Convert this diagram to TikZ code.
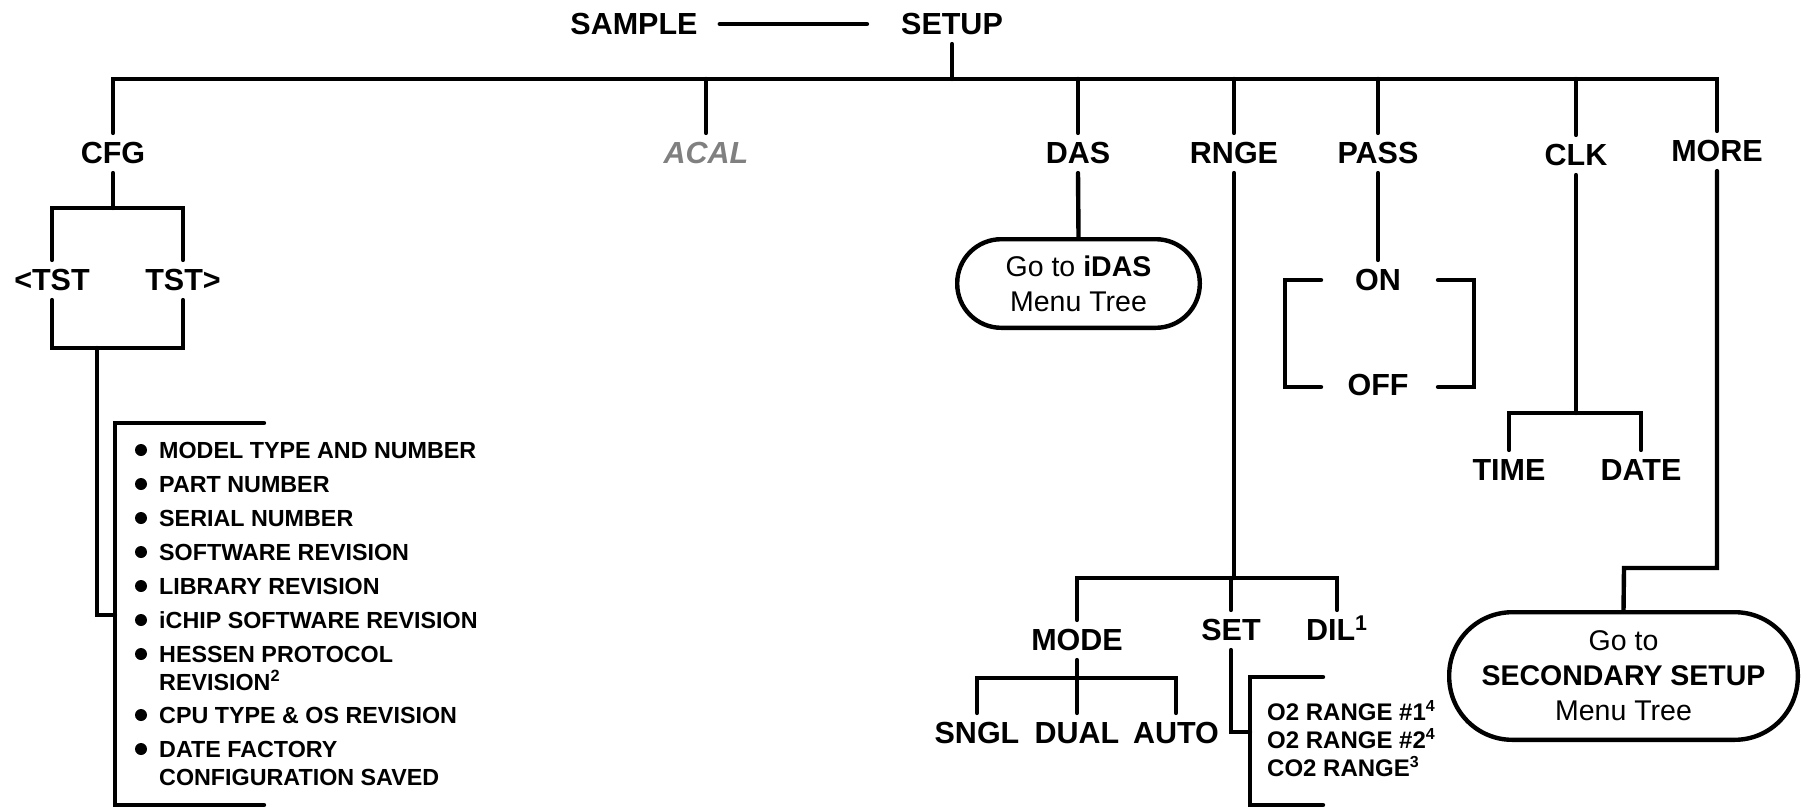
\documentclass[tikz,border=0pt]{standalone}
\usepackage{fontspec}
\setmainfont{Liberation Sans}
\tikzset{
  menu/.style={font=\bfseries\fontsize{15.25}{18}\selectfont, inner xsep=0pt, inner ysep=3.5pt, text height=10.9pt, text depth=0pt},
  infoitem/.style={font=\bfseries\fontsize{11.65}{14}\selectfont, anchor=west, inner sep=0pt, text height=8.3pt, text depth=0pt},
  rng/.style={infoitem, font=\bfseries\fontsize{12}{14}\selectfont},
  menubox/.style={draw, line width=2.2pt, align=center, font=\fontsize{14.25}{17.5}\selectfont, inner sep=0pt},
}
\begin{document}
\begin{tikzpicture}[x=0.5pt, y=-0.5pt, line width=2.2pt, line cap=round]
    \useasboundingbox (0,0) rectangle (1808,808);

    % 1. SAMPLE -- SETUP
    \node[menu] (sample) at (634,24) {SAMPLE};
    \node[menu] (setup) at (952,24) {SETUP};
    \draw ([xshift=10pt]sample.east) -- ([xshift=-16pt]setup.west);

    % 2. Thanh ngang chính và các mục menu
    \coordinate (bus) at (952,79);
    \node[menu] (cfg) at (113,153) {CFG};
    \node[menu, text=black!50] (acal) at (706,153) {\itshape ACAL};
    \node[menu] (das) at (1078,153) {DAS};
    \node[menu] (rnge) at (1234,153) {RNGE};
    \node[menu] (pass) at (1378,153) {PASS};
    \node[menu] (clk) at (1576,155) {CLK};
    \node[menu] (more) at (1717,151) {MORE};
    \draw (setup.south) -- (bus);
    \draw (cfg.north) |- (bus) -| (more.north);
    \foreach \n in {acal,das,rnge,pass,clk}
        \draw (\n.north) -- (\n.north |- bus);

    % 3. CFG: <TST  TST>
    \node[menu] (tstl) at (52,280) {<TST};
    \node[menu] (tstr) at (183,280) {TST>};
    \coordinate (cfgj) at (113,208);
    \coordinate (tstj) at (97,348);
    \coordinate (infoj) at (115,615);
    \draw (cfg.south) -- (cfgj);
    \draw (tstl.north) |- (cfgj) -| (tstr.north);
    \draw (tstl.south) |- (tstj) -| (tstr.south);
    \draw (tstj) |- (infoj);
    \draw (264,423) -| (115,805) -- (264,805);

    % Danh sách thông tin
    \foreach \y/\t in {450/MODEL TYPE AND NUMBER, 484/PART NUMBER, 518/SERIAL NUMBER,
        552/SOFTWARE REVISION, 586/LIBRARY REVISION, 620/iCHIP SOFTWARE REVISION,
        654/HESSEN PROTOCOL, 715/CPU TYPE \& OS REVISION, 749/DATE FACTORY}{
        \fill (141,\y) circle (3pt);
        \node[infoitem] (info\y) at (157,\y) {\t};
    }
    \node[infoitem] (info682) at (157,682) {REVISION\textsuperscript{2}};
    \node[infoitem] (info777) at (157,777) {CONFIGURATION SAVED};

    % 4. DAS
    \node[menubox, minimum width=121.3pt, minimum height=44.3pt, rounded corners=22pt] (idas) at (1078.5,283.5) {Go to \textbf{iDAS}\\Menu Tree};
    \draw (das.south) -- (idas.north);

    % 5. PASS: ON / OFF
    \node[menu] (on) at (1378,280) {ON};
    \node[menu] (off) at (1378,385) {OFF};
    \draw (pass.south) -- (on.north);
    \draw (1321,280) -| (1285,387) -- (1321,387);
    \draw (1438,280) -| (1474,387) -- (1438,387);

    % 6. CLK: TIME / DATE
    \node[menu] (time) at (1509,470) {TIME};
    \node[menu] (date) at (1641,470) {DATE};
    \coordinate (clkj) at (1576,413);
    \draw (clk.south) -- (clkj);
    \draw (time.north) |- (clkj) -| (date.north);

    % 7. RNGE: MODE, SET, DIL
    \node[menu] (mode) at (1077,640) {MODE};
    \node[menu] (set) at (1231,630) {SET};
    \node[menu] (dil) at (1337,630) {DIL\textsuperscript{1}};
    \coordinate (rngej) at (1234,578);
    \draw (rnge.south) -- (rngej);
    \draw (mode.north) |- (rngej) -| (dil.north);
    \draw (set.north) -- (set.north |- rngej);

    \node[menu] (sngl) at (977,733) {SNGL};
    \node[menu] (dual) at (1077,733) {DUAL};
    \node[menu] (auto) at (1176,733) {AUTO};
    \coordinate (modej) at (1077,678);
    \draw (mode.south) -- (dual.north);
    \draw (sngl.north) |- (modej) -| (auto.north);

    \coordinate (setj) at (1250,732);
    \draw (set.south) |- (setj);
    \draw (1323,677) -| (1250,805) -- (1323,805);
    \node[rng] (o2a) at (1265,712) {O2 RANGE \#1\textsuperscript{4}};
    \node[rng] (o2b) at (1265,740) {O2 RANGE \#2\textsuperscript{4}};
    \node[rng] (co2) at (1265,768) {CO2 RANGE\textsuperscript{3}};

    % 8. MORE
    \node[menubox, minimum width=174.3pt, minimum height=63.8pt, rounded corners=31.5pt] (sec) at (1623.5,676) {Go to\\\textbf{SECONDARY SETUP}\\Menu Tree};
    \coordinate (morej) at (1624,568);
    \draw (more.south) |- (morej) -- (sec.north);

\end{tikzpicture}
\end{document}
